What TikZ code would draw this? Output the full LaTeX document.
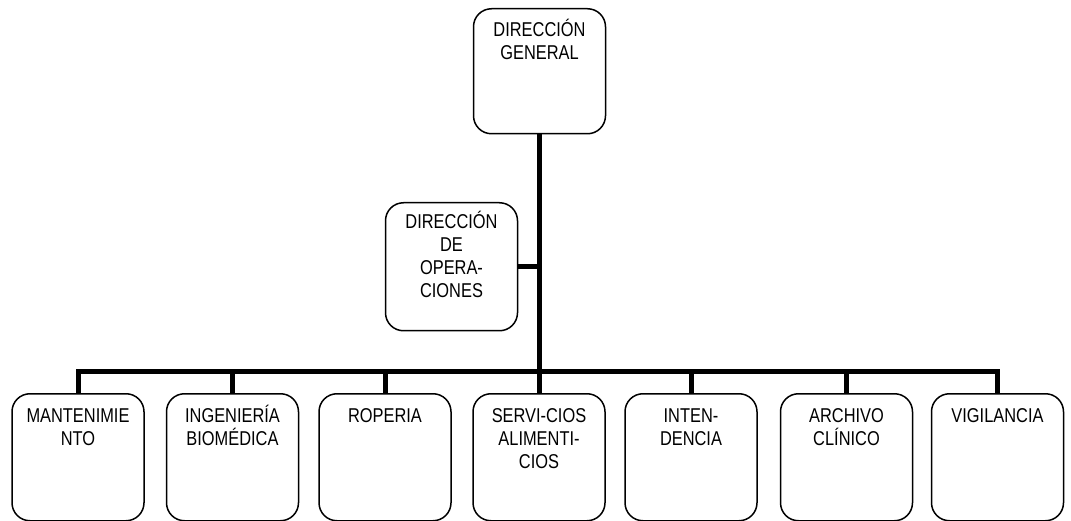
\documentclass[tikz,border=0pt]{standalone}
\usepackage{fontspec}
\setmainfont{Liberation Sans}[FakeStretch=0.82]
\tikzset{
  unidad/.style={draw, line width=1.5pt, rounded corners=18pt, align=center,
    text width=124pt, inner xsep=4pt, inner ysep=0pt, anchor=north,
    font=\fontsize{20}{23}\selectfont},
  area/.style={unidad, text height=29pt, text depth=98pt},
  enlace/.style={line width=5pt}
}
\begin{document}
\begin{tikzpicture}[x=1pt,y=-1pt]
\useasboundingbox (0,0) rectangle (1071,521);
\node[unidad, text height=28pt, text depth=97pt] (dg) at (539.5,8){DIRECCIÓN\\GENERAL};
\node[unidad, text height=26pt, text depth=102pt] (dop) at (451.5,202){DIRECCIÓN\\DE\\OPERA-\\CIONES};
\node[area] (area1) at (78,393){MANTENIMIE\\NTO};
\node[area] (area2) at (232.5,393){INGENIERÍA\\BIOMÉDICA};
\node[area] (area3) at (385,393){ROPERIA};
\node[area] (area4) at (539,393){SERVI-CIOS\\ALIMENTI-\\CIOS};
\node[area] (area5) at (691,393){INTEN-\\DENCIA};
\node[area] (area6) at (846.5,393){ARCHIVO\\CLÍNICO};
\node[area] (area7) at (997.5,393){VIGILANCIA};
\coordinate (bus) at (539.5,371);
\draw[enlace] (dg.south) -- (bus);
\draw[enlace] (dop.east) -- (dop.east -| dg.south);
\draw[enlace] (area1.north) |- (bus) -| (area7.north);
\draw[enlace] (area2.north) -- (area2.north |- bus);
\draw[enlace] (area3.north) -- (area3.north |- bus);
\draw[enlace] (area4.north) -- (area4.north |- bus);
\draw[enlace] (area5.north) -- (area5.north |- bus);
\draw[enlace] (area6.north) -- (area6.north |- bus);
\end{tikzpicture}
\end{document}
